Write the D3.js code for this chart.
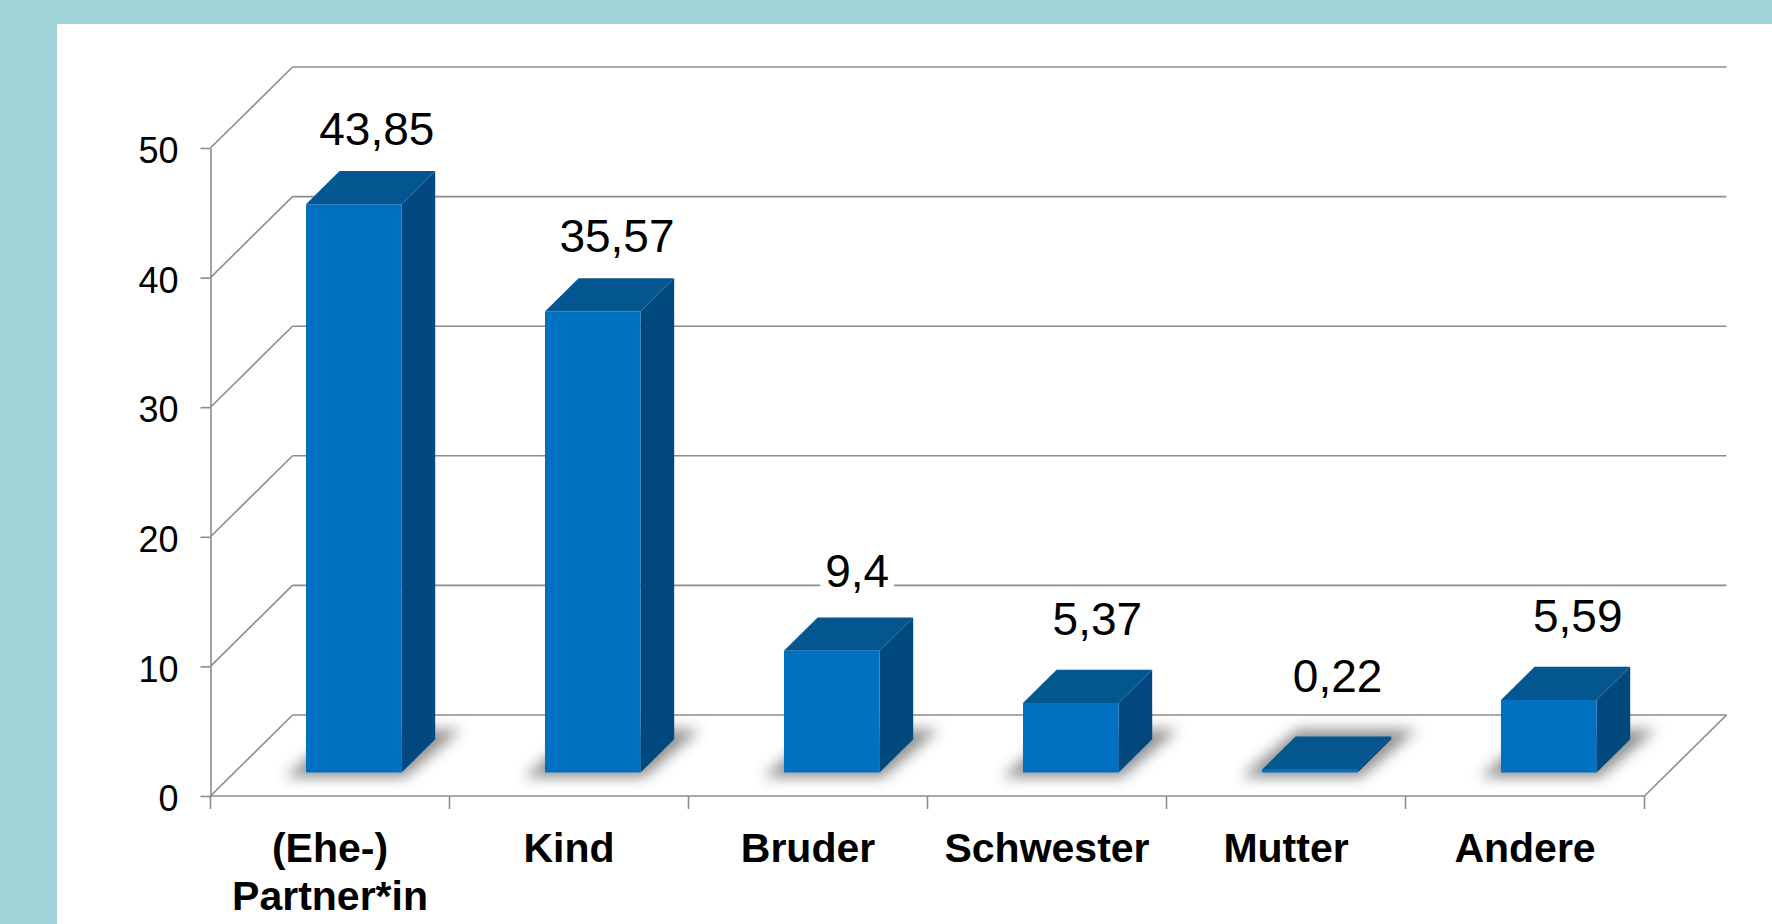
<!DOCTYPE html>
<html>
<head>
<meta charset="utf-8">
<script src="https://cdn.jsdelivr.net/npm/d3@7"></script>
<style>
  html, body { margin: 0; padding: 0; background: #a0d4d8; }
  svg { display: block; }
  text { font-family: "Liberation Sans", Arial, sans-serif; }
</style>
</head>
<body>
<div id="chart"></div>
<script>
const categories = ['(Ehe-)\nPartner*in', 'Kind', 'Bruder', 'Schwester', 'Mutter', 'Andere']
const values = [43.85, 35.57, 9.4, 5.37, 0.22, 5.59]
const valueLabels = ['43,85', '35,57', '9,4', '5,37', '0,22', '5,59']
const yTicks = [0, 10, 20, 30, 40, 50]

const width = 1772
const height = 924

// front plane of the 3d box
const x0 = 210.5
const y0 = 796
const plotW = 1434
const plotH = 648
// depth offset of back wall
const dx = 82
const dy = 81
// bar front / back depth (0 = front, 1 = back)
const z1 = 0.29
const z2 = 0.70

const svg = d3.select('#chart')
  .append('svg')
  .attr('width', width)
  .attr('height', height)

// white panel
svg.append('rect')
  .attr('x', 57).attr('y', 24)
  .attr('width', width - 57).attr('height', height - 24)
  .attr('fill', '#fff')

const defs = svg.append('defs')
defs.append('filter')
  .attr('id', 'shadow')
  .attr('x', '-50%').attr('y', '-50%').attr('width', '200%').attr('height', '200%')
  .append('feGaussianBlur')
  .attr('stdDeviation', 7)

const xScale = d3.scaleBand()
  .domain(categories)
  .range([x0, x0 + plotW])
  .paddingInner(0.6)
  .paddingOuter(0.3)

const yScale = d3.scaleLinear()
  .domain([0, 50])
  .range([y0, y0 - plotH])

const P = (x, v, z) => [x + z * dx, yScale(v) - z * dy]
const poly = pts => pts.map(p => p.join(',')).join(' ')

const gridColor = '#8c8c8c'
const grid = svg.append('g').attr('class', 'grid')

// back wall lines + side diagonals
yTicks.forEach(t => {
  grid.append('line')
    .attr('x1', x0 + dx).attr('y1', yScale(t) - dy)
    .attr('x2', x0 + plotW + dx).attr('y2', yScale(t) - dy)
    .attr('stroke', gridColor).attr('stroke-width', 1.6)
  grid.append('line')
    .attr('x1', x0).attr('y1', yScale(t))
    .attr('x2', x0 + dx).attr('y2', yScale(t) - dy)
    .attr('stroke', gridColor).attr('stroke-width', 1.6)
})

// floor front edge + right diagonal
grid.append('line')
  .attr('x1', x0).attr('y1', y0)
  .attr('x2', x0 + plotW).attr('y2', y0)
  .attr('stroke', gridColor).attr('stroke-width', 1.6)
grid.append('line')
  .attr('x1', x0 + plotW).attr('y1', y0)
  .attr('x2', x0 + plotW + dx).attr('y2', y0 - dy)
  .attr('stroke', gridColor).attr('stroke-width', 1.6)

// x ticks at band boundaries
d3.range(categories.length + 1).forEach(i => {
  const x = x0 + i * xScale.step()
  grid.append('line')
    .attr('x1', x).attr('y1', y0)
    .attr('x2', x).attr('y2', y0 + 13)
    .attr('stroke', gridColor).attr('stroke-width', 1.6)
})

// y axis
const yAxis = d3.axisLeft(yScale)
  .tickValues(yTicks)
  .tickSize(10)
  .tickSizeOuter(0)
  .tickPadding(22)

const yg = svg.append('g')
  .attr('class', 'axis y-axis')
  .attr('transform', 'translate(' + x0 + ',0)')
  .call(yAxis)
yg.select('.domain').attr('stroke', gridColor).attr('stroke-width', 1.6)
yg.selectAll('.tick line').attr('stroke', gridColor).attr('stroke-width', 1.6)
yg.selectAll('.tick text')
  .attr('font-size', 36)
  .attr('fill', '#000')
  .attr('font-family', '"Liberation Sans", Arial, sans-serif')
  .attr('dy', '0.38em')
  .attr('y', 1)

const data = categories.map((c, i) => ({ cat: c, v: values[i], label: valueLabels[i] }))

// shadows
const pad = 16
svg.append('g').selectAll('polygon')
  .data(data)
  .join('polygon')
  .attr('points', d => {
    const bx = xScale(d.cat), bw = xScale.bandwidth()
    return poly([
      P(bx - pad, 0, z1 - 0.06), P(bx + bw + pad * 0.5, 0, z1 - 0.06),
      P(bx + bw + pad, 0, z2 + 0.12), P(bx - pad * 0.5, 0, z2 + 0.12)
    ])
  })
  .attr('fill', '#6a6a6a')
  .attr('opacity', 0.75)
  .attr('filter', 'url(#shadow)')

// bars
const bars = svg.append('g').selectAll('g')
  .data(data)
  .join('g')

bars.append('polygon')
  .attr('points', d => {
    const bx = xScale(d.cat), bw = xScale.bandwidth()
    return poly([P(bx + bw, 0, z1), P(bx + bw, 0, z2), P(bx + bw, d.v, z2), P(bx + bw, d.v, z1)])
  })
  .attr('fill', '#00487e')

bars.append('polygon')
  .attr('points', d => {
    const bx = xScale(d.cat), bw = xScale.bandwidth()
    return poly([P(bx, 0, z1), P(bx + bw, 0, z1), P(bx + bw, d.v, z1), P(bx, d.v, z1)])
  })
  .attr('fill', '#0070c0')

bars.append('polygon')
  .attr('points', d => {
    const bx = xScale(d.cat), bw = xScale.bandwidth()
    return poly([P(bx, d.v, z1), P(bx + bw, d.v, z1), P(bx + bw, d.v, z2), P(bx, d.v, z2)])
  })
  .attr('fill', '#03568f')

// value labels
const labels = svg.append('g').selectAll('g')
  .data(data)
  .join('g')
  .attr('transform', d => {
    const fc = xScale(d.cat) + xScale.bandwidth() / 2 + z1 * dx
    const cx = fc + 23 + 0.005 * (fc - 354)
    const topBack = P(0, d.v, z2)[1]
    const gap = 26 + 19 * Math.exp(-d.v / 7)
    return 'translate(' + cx + ',' + (topBack - gap) + ')'
  })

labels.append('text')
  .attr('text-anchor', 'middle')
  .attr('font-size', 46)
  .attr('fill', '#000')
  .text(d => d.label)

labels.each(function () {
  const g = d3.select(this)
  const bb = g.select('text').node().getBBox()
  g.insert('rect', 'text')
    .attr('x', bb.x - 5).attr('y', bb.y)
    .attr('width', bb.width + 10).attr('height', bb.height)
    .attr('fill', '#fff')
})

// category labels
svg.append('g').selectAll('text')
  .data(categories)
  .join('text')
  .attr('text-anchor', 'middle')
  .attr('font-size', 41)
  .attr('font-weight', 'bold')
  .attr('fill', '#000')
  .attr('transform', d => 'translate(' + (xScale(d) + xScale.bandwidth() / 2) + ',' + 862 + ')')
  .selectAll('tspan')
  .data(d => d.split('\n'))
  .join('tspan')
  .attr('x', 0)
  .attr('dy', (d, i) => i === 0 ? 0 : 48)
  .text(d => d)
</script>
</body>
</html>
